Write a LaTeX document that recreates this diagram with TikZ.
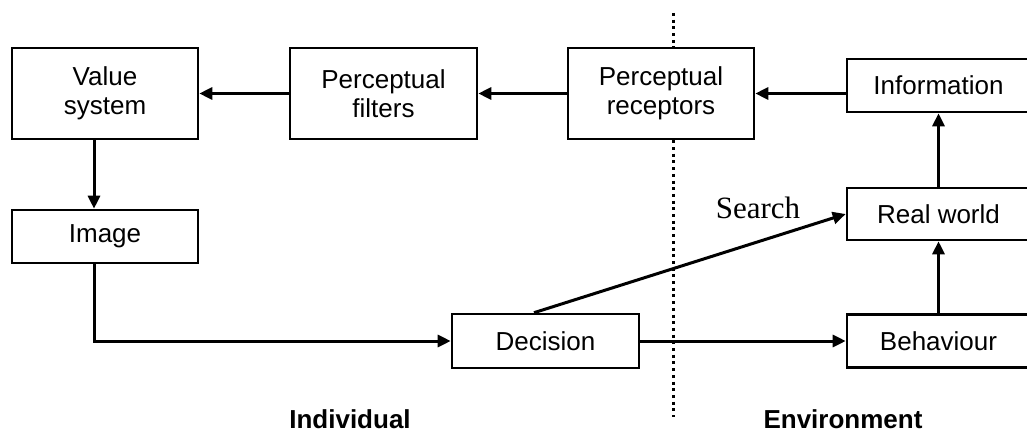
\documentclass[tikz,border=0pt]{standalone}
\usepackage{fontspec}
\setmainfont{Liberation Sans}
\newfontfamily\serifface{Liberation Serif}
\usetikzlibrary{arrows.meta}

\begin{document}
\begin{tikzpicture}[x=1pt, y=-1pt,
  box/.style={draw, fill=white, line width=2.6pt, inner sep=0pt, align=center,
    font=\fontsize{26}{29}\selectfont},
  arr/.style={line width=3pt, -{Triangle[length=13pt, width=12pt]}},
  side/.style={font=\fontsize{26}{30}\selectfont\bfseries, anchor=base}]
  \useasboundingbox (0,0) rectangle (1027,433);
  \clip (0,0) rectangle (1027,433);

  % boundary between the individual and the environment
  \draw[line width=3pt, dash pattern=on 3pt off 3.7pt] (673,13) -- (673,417);

  % boxes
  \node[box, minimum width=186pt, minimum height=91pt] (vs)   at (105,93.5)   {Value\\system};
  \node[box, minimum width=187pt, minimum height=91pt] (pf)   at (383.5,93.5) {Perceptual\\filters};
  \node[box, minimum width=186pt, minimum height=91pt] (pr)   at (661,93.5)   {Perceptual\\receptors};
  \node[box, minimum width=183pt, minimum height=53pt] (info) at (938.5,85.5) {Information};
  \node[box, minimum width=186pt, minimum height=53pt] (img)  at (105,236.5)  {Image};
  \node[box, minimum width=183pt, minimum height=52pt] (rw)   at (938.5,214)  {Real world};
  \node[box, minimum width=187pt, minimum height=54pt] (dec)  at (545.5,341)  {Decision};
  \node[box, minimum width=183pt, minimum height=53pt] (beh)  at (938.5,341)  {Behaviour};

  % connectors
  \draw[arr] (pf.west) -- (vs.east);
  \draw[arr] (pr.west) -- (pf.east);
  \draw[arr] (info.west |- pr.east) -- (pr.east);
  \draw[arr] ([xshift=-11pt]vs.south) -- ([xshift=-11pt]img.north);
  \draw[arr] ([xshift=-11pt]img.south) |- (dec.west);
  \draw[arr] (dec.east) -- (beh.west);
  \draw[arr] ([xshift=-11.5pt]dec.north) -- (rw.west);
  \draw[arr] (beh.north) -- (rw.south);
  \draw[arr] (rw.north) -- (info.south);

  % labels
  \node[font=\serifface\fontsize{31}{34}\selectfont, anchor=base] (search) at (758,218) {Search};
  \node[side] (indiv) at (350,428) {Individual};
  \node[side] (env)   at (843,428) {Environment};
\end{tikzpicture}
\end{document}
